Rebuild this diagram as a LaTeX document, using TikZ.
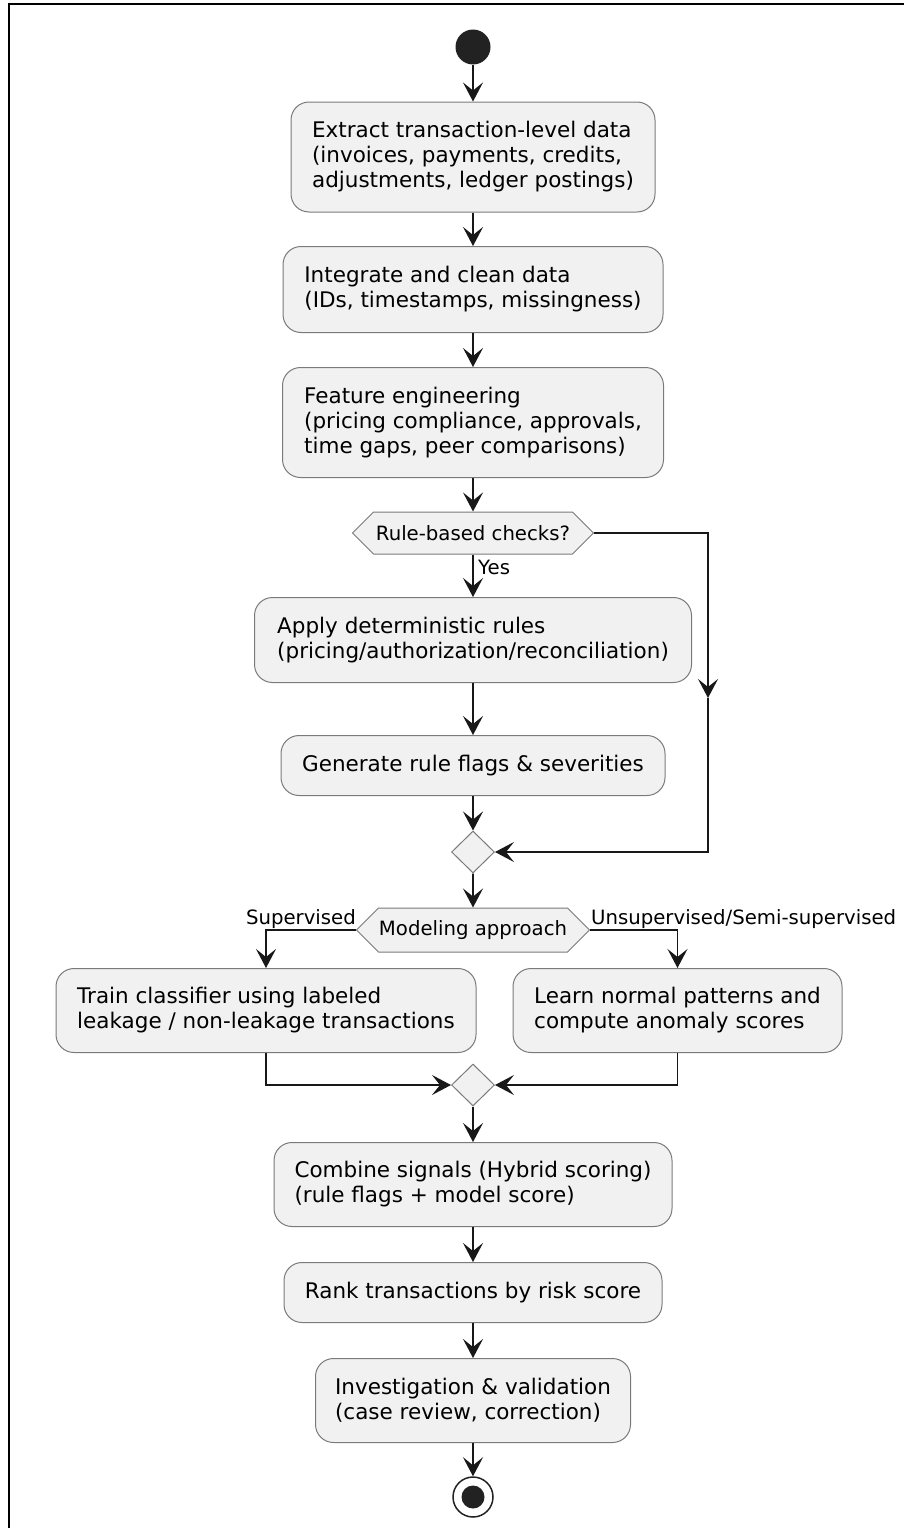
\documentclass[tikz,border=0pt]{standalone}
\usepackage{fontspec}
\setmainfont{DejaVu Sans}
\usetikzlibrary{arrows.meta,shapes.geometric,shapes.symbols}
\definecolor{linecol}{HTML}{181818}
\definecolor{boxfill}{HTML}{F1F1F1}
\definecolor{boxdraw}{HTML}{7A7A7A}
\definecolor{dotcol}{HTML}{222222}
\tikzset{
  act/.style={rectangle, rounded corners=18pt, draw=boxdraw, fill=boxfill, line width=1pt,
    align=left, inner sep=0pt, text=black, font=\fontsize{21.5}{25}\selectfont},
  hexa/.style={signal, signal to=east and west, signal pointer angle=90, draw=boxdraw,
    fill=boxfill, line width=1pt, inner sep=0pt, text=black, font=\fontsize{19.7}{23}\selectfont},
  merge/.style={diamond, aspect=1, draw=boxdraw, fill=boxfill, line width=1pt, inner sep=0pt,
    minimum width=43pt, minimum height=42pt},
  lbl/.style={inner sep=0pt, text=black, font=\fontsize{19.7}{23}\selectfont},
  conn/.style={draw=linecol, line width=1.6pt},
  arr/.style={conn, -{Stealth[length=19pt,width=20pt,inset=8pt]}}
}
\begin{document}
\begin{tikzpicture}[x=1pt,y=-1pt]
\useasboundingbox (0,0) rectangle (904,1528);
\draw[line width=2pt, black] (9,1532) -- (9,4) -- (908,4);

\node[circle, fill=dotcol, minimum size=35pt, inner sep=0pt] (start) at (473,47) {};

\node[act, minimum width=364pt, minimum height=110pt] (a1) at (473,157)
  {Extract transaction-level data\\(invoices, payments, credits,\\adjustments, ledger postings)};
\node[act, minimum width=380pt, minimum height=86pt] (a2) at (473,289.5)
  {Integrate and clean data\\(IDs, timestamps, missingness)};
\node[act, minimum width=381pt, minimum height=110pt] (a3) at (473,422.5)
  {Feature engineering\\(pricing compliance, approvals,\\time gaps, peer comparisons)};
\node[hexa, minimum width=241pt, minimum height=42pt] (h1) at (473,533) {Rule-based checks?};
\node[act, minimum width=437pt, minimum height=85pt] (a4) at (473,640)
  {Apply deterministic rules\\(pricing/authorization/reconciliation)};
\node[act, minimum width=384pt, minimum height=60pt] (a5) at (473,765.5)
  {Generate rule flags \& severities};
\node[merge] (m1) at (473,852) {};
\node[hexa, minimum width=233pt, minimum height=44pt] (h2) at (473,930) {Modeling approach};
\node[act, minimum width=420pt, minimum height=84pt] (a6) at (266,1010.5)
  {Train classifier using labeled\\leakage / non-leakage transactions};
\node[act, minimum width=329pt, minimum height=84pt] (a7) at (677.5,1010.5)
  {Learn normal patterns and\\compute anomaly scores};
\node[merge] (m2) at (473,1085) {};
\node[act, minimum width=398pt, minimum height=84pt] (a8) at (473,1184.5)
  {Combine signals (Hybrid scoring)\\(rule flags + model score)};
\node[act, minimum width=378pt, minimum height=60pt] (a9) at (473,1292.5)
  {Rank transactions by risk score};
\node[act, minimum width=315pt, minimum height=84pt] (a10) at (473,1400.5)
  {Investigation \& validation\\(case review, correction)};
\node[circle, draw=dotcol, line width=1.5pt, fill=white, minimum size=40pt, inner sep=0pt] (end) at (473,1497) {};
\node[circle, fill=dotcol, minimum size=23pt, inner sep=0pt] (endin) at (end.center) {};

\node[lbl, anchor=west] (lyes) at (478,567) {Yes};
\node[lbl, anchor=east] (lsup) at (356,919) {Supervised};
\node[lbl, anchor=west] (luns) at (591,919) {Unsupervised/Semi-supervised};

\coordinate (rc) at (708,698);

\draw[arr] (start) -- (a1);
\draw[arr] (a1) -- (a2);
\draw[arr] (a2) -- (a3);
\draw[arr] (a3) -- (h1);
\draw[arr] (h1) -- (a4);
\draw[arr] (a4) -- (a5);
\draw[arr] (a5) -- (m1);
\draw[arr] (h1.east) -| (rc);
\draw[arr] (rc) |- (m1.east);
\draw[arr] (m1) -- (h2);
\draw[arr] (h2.west) -| (a6.north);
\draw[arr] (h2.east) -| (a7.north);
\draw[arr] (a6.south) |- (m2.west);
\draw[arr] (a7.south) |- (m2.east);
\draw[arr] (m2) -- (a8);
\draw[arr] (a8) -- (a9);
\draw[arr] (a9) -- (a10);
\draw[arr] (a10) -- (end);
\end{tikzpicture}
\end{document}
